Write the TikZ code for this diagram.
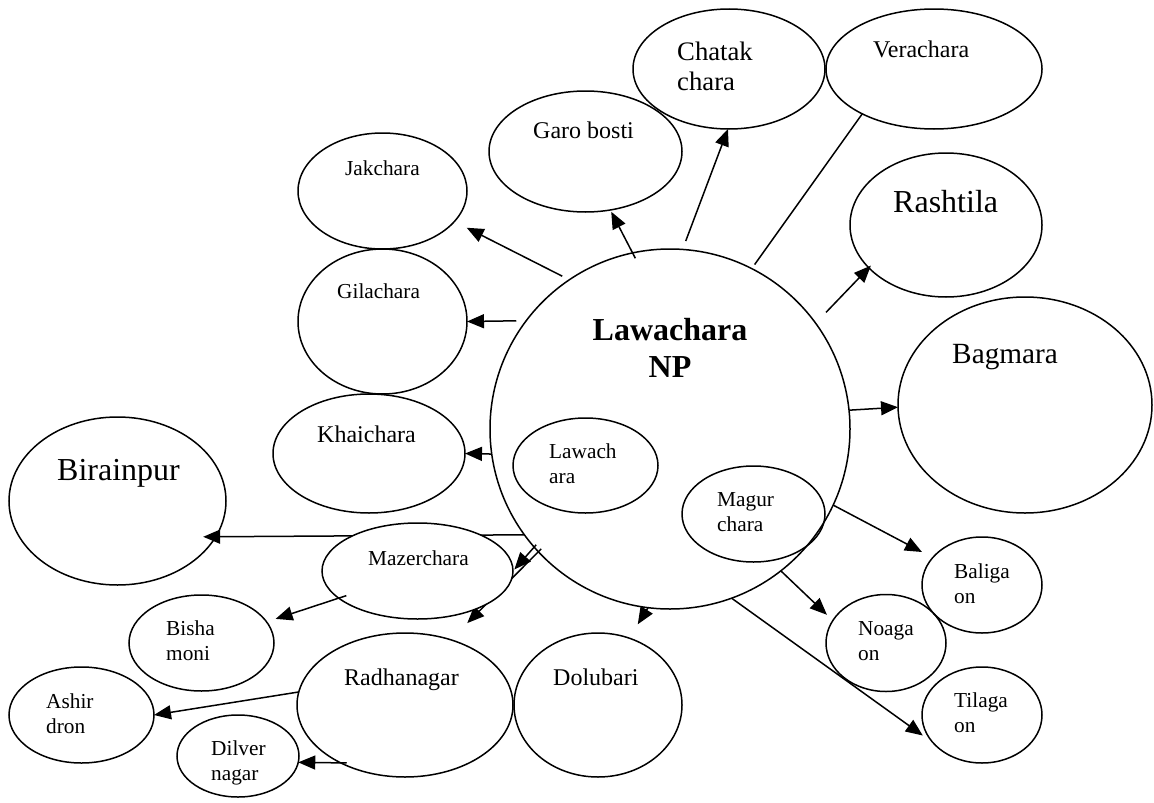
\documentclass[tikz,border=0pt]{standalone}
\usepackage{fontspec}
\setmainfont{Liberation Serif}
\usetikzlibrary{shapes.geometric,arrows.meta}

% font sizes used by the labels
\newcommand\fsS{\fontsize{21.3}{24.5}\selectfont}
\newcommand\fsM{\fontsize{24}{27.6}\selectfont}
\newcommand\fsC{\fontsize{26.7}{30}\selectfont}
\newcommand\fsB{\fontsize{29.3}{33.7}\selectfont}
\newcommand\fsL{\fontsize{32}{36.8}\selectfont}

\tikzset{
  place/.style={draw, ellipse, line width=1.5pt, inner sep=0pt, outer sep=0pt},
  sz/.style 2 args={minimum width=#1pt, minimum height=#2pt},
  lbl/.style={inner sep=0pt, anchor=base west, align=left},
  conn/.style={line width=1.5pt},
  arr/.style={conn, -{Triangle[length=17pt,width=14pt]}},
}

\begin{document}
\begin{tikzpicture}[x=1pt,y=-1pt]
\useasboundingbox (0,0) rectangle (1154,803);

% central park and the two villages inside it
\node[draw, circle, line width=1.5pt, inner sep=0pt, outer sep=0pt, minimum size=360pt] (main) at (670,429) {};
\node[place, sz={145}{95}]  (law)   at (585.5,465.5) {};
\node[place, sz={143}{96}]  (magur) at (753.5,514) {};

% surrounding villages
\node[place, sz={169}{116}] (jak)    at (382.5,191) {};
\node[place, sz={169}{145}] (gila)   at (382.5,321.5) {};
\node[place, sz={192}{119}] (khai)   at (369,453.5) {};
\node[place, sz={217}{168}] (bira)   at (117.5,501) {};
\node[place, sz={145}{96}]  (bisha)  at (201.5,643) {};
\node[place, sz={145}{96}]  (ashir)  at (81.5,715) {};
\node[place, sz={122}{82}]  (dilver) at (238,756) {};
\node[place, sz={216}{144}] (radh)   at (405,705) {};
\node[place, sz={168}{144}] (dolu)   at (598,705) {};
\node[place, sz={120}{96}]  (bali)   at (982,585) {};
\node[place, sz={120}{97}]  (noa)    at (886,643) {};
\node[place, sz={120}{96}]  (tila)   at (982,715) {};
\node[place, sz={254}{216}] (bag)    at (1025,405) {};
\node[place, sz={192}{144}] (rash)   at (946,225) {};
\node[place, sz={216}{120}] (vera)   at (934,69) {};
\node[place, sz={192}{120}] (chat)   at (729,69) {};
\node[place, sz={193}{121}] (garo)   at (585.5,151.5) {};

% connectors running behind Mazerchara
\draw[arr, shorten >=-12.5pt] (main.216.9) -- (bira.-20.2);
\draw[arr, shorten <=-4pt, shorten >=23.5pt] (main.223.4) -- (radh.55.2);

\node[place, fill=white, sz={191}{96}] (maz) at (417.5,571) {};

% connectors from the park
\draw[arr, shorten <=8pt, shorten >=13.8pt] (main.124.6) -- (jak.-23.1);
\draw[arr, shorten <=-6pt, shorten >=2pt] (main.102) -- (garo.-67.1);
\draw[arr, shorten <=9pt] (main.86.4) -- (chat.-91);
\draw[conn, shorten <=5pt] (main.63.3) -- (vera.212);
\draw[arr, shorten <=15pt, shorten >=-3pt] (main.36.9) -- (rash.209.6);
\draw[arr] (main.6.65) -- (bag.181.4);
\draw[arr, shorten >=12.1pt] (main.-25.9) -- (bali.151.2);
\draw[arr, shorten >=8.2pt] (main.-52.7) -- (noa.157.7);
\draw[arr, shorten >=13pt] (main.-70.1) -- (tila.210);
\draw[arr, shorten >=16.3pt] (main.-97) -- (dolu.65.7);
\draw[arr, shorten <=-3pt, shorten >=2pt] (main.221.8) -- (maz.-0.6);
\draw[arr, shorten <=10pt] (main.143.5) -- (gila.0);
\draw[arr] (main.188.3) -- (khai.-0.9);

% secondary connectors
\draw[arr, shorten <=-8pt, shorten >=9.5pt] (maz.199.2) -- (bisha.18.8);
\draw[arr] (radh.173.1) -- (ashir.0.8);
\draw[arr, shorten <=-6pt] (radh.222.2) -- (dilver.-6.4);

% labels (two-line labels are placed by the baseline of their last line)
\node[inner sep=0pt, align=center, anchor=base, font=\fsL\bfseries] (tmain) at (670,377) {Lawachara\\NP};
\node[lbl, font=\fsS] (tlaw)   at (549,483) {Lawach\\ara};
\node[lbl, font=\fsS] (tmagur) at (717,531) {Magur\\chara};
\node[lbl, font=\fsS] (tjak)   at (345,175) {Jakchara};
\node[lbl, font=\fsS] (tgila)  at (337,298) {Gilachara};
\node[lbl, font=\fsM] (tkhai)  at (317,442) {Khaichara};
\node[lbl, font=\fsL] (tbira)  at (57,480) {Birainpur};
\node[lbl, font=\fsS] (tmaz)   at (368,565) {Mazerchara};
\node[lbl, font=\fsS] (tbisha) at (166,660) {Bisha\\moni};
\node[lbl, font=\fsS] (tashir) at (46,733) {Ashir\\dron};
\node[lbl, font=\fsS] (tdil)   at (211,780) {Dilver\\nagar};
\node[lbl, font=\fsM] (tradh)  at (344,685) {Radhanagar};
\node[lbl, font=\fsM] (tdolu)  at (553,685) {Dolubari};
\node[lbl, font=\fsS] (tbali)  at (954,603) {Baliga\\on};
\node[lbl, font=\fsS] (tnoa)   at (858,660) {Noaga\\on};
\node[lbl, font=\fsS] (ttila)  at (954,732) {Tilaga\\on};
\node[lbl, font=\fsB] (tbag)   at (952,363) {Bagmara};
\node[lbl, font=\fsL] (trash)  at (893,212) {Rashtila};
\node[lbl, font=\fsM] (tvera)  at (873,57) {Verachara};
\node[lbl, font=\fsC] (tchat)  at (677,90) {Chatak\\chara};
\node[lbl, font=\fsM] (tgaro)  at (533,138) {Garo bosti};
\end{tikzpicture}
\end{document}
